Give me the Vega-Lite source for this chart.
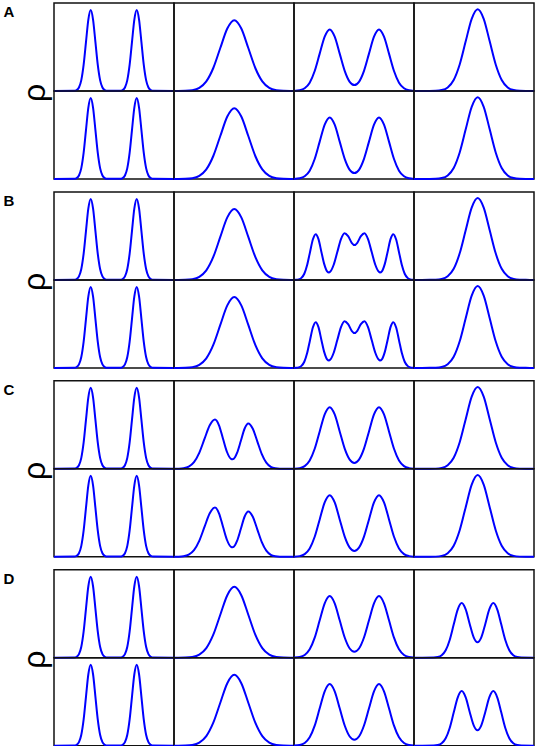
{
  "$schema": "https://vega.github.io/schema/vega-lite/v6.json",
  "autosize": {"type": "pad"},
  "padding": {"left": 3, "top": 2, "right": 1, "bottom": 1},
  "background": "white",
  "spacing": 6.9,
  "datasets": {
    "curves": [
      {"k":"1n","x":0,"y1":0,"y2":0},{"k":"1n","x":20.25,"y1":0.002,"y2":0.002},{"k":"1n","x":22.6,"y1":0.01,"y2":0.01},{"k":"1n","x":24.95,"y1":0.04,"y2":0.04},{"k":"1n","x":27.3,"y1":0.124,"y2":0.124},{"k":"1n","x":29.65,"y1":0.299,"y2":0.299},{"k":"1n","x":32,"y1":0.558,"y2":0.558},{"k":"1n","x":34.35,"y1":0.812,"y2":0.812},{"k":"1n","x":36.7,"y1":0.92,"y2":0.92},{"k":"1n","x":39.05,"y1":0.812,"y2":0.812},{"k":"1n","x":41.4,"y1":0.558,"y2":0.558},{"k":"1n","x":43.75,"y1":0.299,"y2":0.299},{"k":"1n","x":46.1,"y1":0.124,"y2":0.124},{"k":"1n","x":48.45,"y1":0.04,"y2":0.04},{"k":"1n","x":50.8,"y1":0.01,"y2":0.01},{"k":"1n","x":53.15,"y1":0.002,"y2":0.002},{"k":"1n","x":66.25,"y1":0.002,"y2":0.002},{"k":"1n","x":68.6,"y1":0.01,"y2":0.01},{"k":"1n","x":70.95,"y1":0.04,"y2":0.04},{"k":"1n","x":73.3,"y1":0.124,"y2":0.124},{"k":"1n","x":75.65,"y1":0.299,"y2":0.299},{"k":"1n","x":78,"y1":0.558,"y2":0.558},{"k":"1n","x":80.35,"y1":0.812,"y2":0.812},{"k":"1n","x":82.7,"y1":0.92,"y2":0.92},{"k":"1n","x":85.05,"y1":0.812,"y2":0.812},{"k":"1n","x":87.4,"y1":0.558,"y2":0.558},{"k":"1n","x":89.75,"y1":0.299,"y2":0.299},{"k":"1n","x":92.1,"y1":0.124,"y2":0.124},{"k":"1n","x":94.45,"y1":0.04,"y2":0.04},{"k":"1n","x":96.8,"y1":0.01,"y2":0.01},{"k":"1n","x":99.15,"y1":0.002,"y2":0.002},{"k":"1n","x":120,"y1":0,"y2":0},

      {"k":"2s","x":0,"y1":0,"y2":0},{"k":"2s","x":4.3,"y1":0.0002,"y2":0.0002},{"k":"2s","x":11.3,"y1":0.0018,"y2":0.0018},{"k":"2s","x":18.3,"y1":0.0089,"y2":0.0089},{"k":"2s","x":25.3,"y1":0.0353,"y2":0.0353},{"k":"2s","x":32.3,"y1":0.1089,"y2":0.1089},{"k":"2s","x":39.3,"y1":0.2614,"y2":0.2614},{"k":"2s","x":46.3,"y1":0.4882,"y2":0.4882},{"k":"2s","x":53.3,"y1":0.7104,"y2":0.7104},{"k":"2s","x":60.3,"y1":0.805,"y2":0.805},{"k":"2s","x":67.3,"y1":0.7104,"y2":0.7104},{"k":"2s","x":74.3,"y1":0.4882,"y2":0.4882},{"k":"2s","x":81.3,"y1":0.2614,"y2":0.2614},{"k":"2s","x":88.3,"y1":0.1089,"y2":0.1089},{"k":"2s","x":95.3,"y1":0.0353,"y2":0.0353},{"k":"2s","x":102.3,"y1":0.0089,"y2":0.0089},{"k":"2s","x":109.3,"y1":0.0018,"y2":0.0018},{"k":"2s","x":116.3,"y1":0.0002,"y2":0.0002},{"k":"2s","x":120,"y1":0,"y2":0},

      {"k":"2c","x":0,"y1":0,"y2":0},{"k":"2c","x":4.25,"y1":0.0012,"y2":0.0012},{"k":"2c","x":9.5,"y1":0.0062,"y2":0.0062},{"k":"2c","x":14.75,"y1":0.0246,"y2":0.0246},{"k":"2c","x":20,"y1":0.0758,"y2":0.0758},{"k":"2c","x":25.25,"y1":0.1818,"y2":0.1818},{"k":"2c","x":30.5,"y1":0.3396,"y2":0.3396},{"k":"2c","x":35.75,"y1":0.4942,"y2":0.4942},{"k":"2c","x":41,"y1":0.56,"y2":0.56},{"k":"2c","x":45,"y1":0.4945,"y2":0.4945},{"k":"2c","x":49,"y1":0.3413,"y2":0.3413},{"k":"2c","x":53,"y1":0.1909,"y2":0.1909},{"k":"2c","x":57,"y1":0.1118,"y2":0.1118},{"k":"2c","x":58.5,"y1":0.1072,"y2":0.1072},{"k":"2c","x":61,"y1":0.1315,"y2":0.1315},{"k":"2c","x":63.05,"y1":0.1798,"y2":0.1798},{"k":"2c","x":66.8,"y1":0.3154,"y2":0.3154},{"k":"2c","x":70.55,"y1":0.4551,"y2":0.4551},{"k":"2c","x":74.3,"y1":0.515,"y2":0.515},{"k":"2c","x":78.8,"y1":0.4545,"y2":0.4545},{"k":"2c","x":83.3,"y1":0.3123,"y2":0.3123},{"k":"2c","x":87.8,"y1":0.1672,"y2":0.1672},{"k":"2c","x":92.3,"y1":0.0697,"y2":0.0697},{"k":"2c","x":96.8,"y1":0.0226,"y2":0.0226},{"k":"2c","x":101.3,"y1":0.0057,"y2":0.0057},{"k":"2c","x":105.8,"y1":0.0011,"y2":0.0011},{"k":"2c","x":120,"y1":0,"y2":0},

      {"k":"3m","x":0,"y1":0.0012,"y2":0.0012},{"k":"3m","x":5.7,"y1":0.0078,"y2":0.0078},{"k":"3m","x":10.7,"y1":0.0307,"y2":0.0307},{"k":"3m","x":15.7,"y1":0.0947,"y2":0.0947},{"k":"3m","x":20.7,"y1":0.2273,"y2":0.2273},{"k":"3m","x":25.7,"y1":0.4246,"y2":0.4246},{"k":"3m","x":30.7,"y1":0.6178,"y2":0.6178},{"k":"3m","x":35.7,"y1":0.7,"y2":0.7},{"k":"3m","x":40.7,"y1":0.6178,"y2":0.6178},{"k":"3m","x":45.7,"y1":0.4249,"y2":0.4249},{"k":"3m","x":50.7,"y1":0.2293,"y2":0.2293},{"k":"3m","x":55.7,"y1":0.1043,"y2":0.1043},{"k":"3m","x":60.35,"y1":0.0671,"y2":0.0671},{"k":"3m","x":65,"y1":0.1043,"y2":0.1043},{"k":"3m","x":70,"y1":0.2293,"y2":0.2293},{"k":"3m","x":75,"y1":0.4249,"y2":0.4249},{"k":"3m","x":80,"y1":0.6178,"y2":0.6178},{"k":"3m","x":85,"y1":0.7,"y2":0.7},{"k":"3m","x":90,"y1":0.6178,"y2":0.6178},{"k":"3m","x":95,"y1":0.4246,"y2":0.4246},{"k":"3m","x":100,"y1":0.2273,"y2":0.2273},{"k":"3m","x":105,"y1":0.0947,"y2":0.0947},{"k":"3m","x":110,"y1":0.0307,"y2":0.0307},{"k":"3m","x":115,"y1":0.0078,"y2":0.0078},{"k":"3m","x":120,"y1":0.0012,"y2":0.0012},

      {"k":"3q","x":0,"y1":0,"y2":0},{"k":"3q","x":1.75,"y1":0.001,"y2":0.001},{"k":"3q","x":4.6,"y1":0.006,"y2":0.006},{"k":"3q","x":7.45,"y1":0.023,"y2":0.023},{"k":"3q","x":10.3,"y1":0.07,"y2":0.07},{"k":"3q","x":13.15,"y1":0.169,"y2":0.169},{"k":"3q","x":16,"y1":0.315,"y2":0.315},{"k":"3q","x":18.85,"y1":0.459,"y2":0.459},{"k":"3q","x":21.7,"y1":0.52,"y2":0.52},{"k":"3q","x":24.55,"y1":0.46,"y2":0.46},{"k":"3q","x":27.4,"y1":0.318,"y2":0.318},{"k":"3q","x":30.25,"y1":0.179,"y2":0.179},{"k":"3q","x":33.1,"y1":0.098,"y2":0.098},{"k":"3q","x":35,"y1":0.085,"y2":0.085},{"k":"3q","x":36.1,"y1":0.092,"y2":0.092},{"k":"3q","x":39.7,"y1":0.172,"y2":0.172},{"k":"3q","x":43.3,"y1":0.316,"y2":0.316},{"k":"3q","x":46.9,"y1":0.46,"y2":0.46},{"k":"3q","x":50.5,"y1":0.53,"y2":0.53},{"k":"3q","x":54.1,"y1":0.497,"y2":0.497},{"k":"3q","x":57.7,"y1":0.422,"y2":0.422},{"k":"3q","x":60.5,"y1":0.396,"y2":0.396},{"k":"3q","x":63.3,"y1":0.422,"y2":0.422},{"k":"3q","x":66.9,"y1":0.497,"y2":0.497},{"k":"3q","x":70.5,"y1":0.53,"y2":0.53},{"k":"3q","x":74.1,"y1":0.46,"y2":0.46},{"k":"3q","x":77.7,"y1":0.316,"y2":0.316},{"k":"3q","x":81.3,"y1":0.172,"y2":0.172},{"k":"3q","x":84.9,"y1":0.092,"y2":0.092},{"k":"3q","x":86,"y1":0.085,"y2":0.085},{"k":"3q","x":87.9,"y1":0.098,"y2":0.098},{"k":"3q","x":90.75,"y1":0.179,"y2":0.179},{"k":"3q","x":93.6,"y1":0.318,"y2":0.318},{"k":"3q","x":96.45,"y1":0.46,"y2":0.46},{"k":"3q","x":99.3,"y1":0.52,"y2":0.52},{"k":"3q","x":102.15,"y1":0.459,"y2":0.459},{"k":"3q","x":105,"y1":0.315,"y2":0.315},{"k":"3q","x":107.85,"y1":0.169,"y2":0.169},{"k":"3q","x":110.7,"y1":0.07,"y2":0.07},{"k":"3q","x":113.55,"y1":0.023,"y2":0.023},{"k":"3q","x":116.4,"y1":0.006,"y2":0.006},{"k":"3q","x":119.25,"y1":0.001,"y2":0.001},{"k":"3q","x":120,"y1":0,"y2":0},

      {"k":"4t","x":0,"y1":0,"y2":0},{"k":"4t","x":15.7,"y1":0.0003,"y2":0.0003},{"k":"4t","x":21.7,"y1":0.002,"y2":0.002},{"k":"4t","x":27.7,"y1":0.0103,"y2":0.0103},{"k":"4t","x":33.7,"y1":0.0408,"y2":0.0408},{"k":"4t","x":39.7,"y1":0.1258,"y2":0.1258},{"k":"4t","x":45.7,"y1":0.302,"y2":0.302},{"k":"4t","x":51.7,"y1":0.564,"y2":0.564},{"k":"4t","x":57.7,"y1":0.8207,"y2":0.8207},{"k":"4t","x":63.7,"y1":0.93,"y2":0.93},{"k":"4t","x":69.7,"y1":0.8207,"y2":0.8207},{"k":"4t","x":75.7,"y1":0.564,"y2":0.564},{"k":"4t","x":81.7,"y1":0.302,"y2":0.302},{"k":"4t","x":87.7,"y1":0.1258,"y2":0.1258},{"k":"4t","x":93.7,"y1":0.0408,"y2":0.0408},{"k":"4t","x":99.7,"y1":0.0103,"y2":0.0103},{"k":"4t","x":105.7,"y1":0.002,"y2":0.002},{"k":"4t","x":111.7,"y1":0.0003,"y2":0.0003},{"k":"4t","x":120,"y1":0,"y2":0},

      {"k":"4d","x":0,"y1":0,"y2":0},{"k":"4d","x":19.7,"y1":0.0014,"y2":0.0014},{"k":"4d","x":23.7,"y1":0.0069,"y2":0.0069},{"k":"4d","x":27.7,"y1":0.0272,"y2":0.0272},{"k":"4d","x":31.7,"y1":0.0839,"y2":0.0839},{"k":"4d","x":35.7,"y1":0.2013,"y2":0.2013},{"k":"4d","x":39.7,"y1":0.376,"y2":0.376},{"k":"4d","x":43.7,"y1":0.5472,"y2":0.5472},{"k":"4d","x":47.7,"y1":0.6203,"y2":0.6203},{"k":"4d","x":51.7,"y1":0.5488,"y2":0.5488},{"k":"4d","x":55.7,"y1":0.384,"y2":0.384},{"k":"4d","x":59.7,"y1":0.2321,"y2":0.2321},{"k":"4d","x":63.5,"y1":0.176,"y2":0.176},{"k":"4d","x":67.3,"y1":0.2321,"y2":0.2321},{"k":"4d","x":71.3,"y1":0.384,"y2":0.384},{"k":"4d","x":75.3,"y1":0.5488,"y2":0.5488},{"k":"4d","x":79.3,"y1":0.6203,"y2":0.6203},{"k":"4d","x":83.3,"y1":0.5472,"y2":0.5472},{"k":"4d","x":87.3,"y1":0.376,"y2":0.376},{"k":"4d","x":91.3,"y1":0.2013,"y2":0.2013},{"k":"4d","x":95.3,"y1":0.0839,"y2":0.0839},{"k":"4d","x":99.3,"y1":0.0272,"y2":0.0272},{"k":"4d","x":103.3,"y1":0.0069,"y2":0.0069},{"k":"4d","x":107.3,"y1":0.0014,"y2":0.0014},{"k":"4d","x":120,"y1":0,"y2":0}
    ]
  },
  "vconcat": [
    {
      "title": {"text": "A", "orient": "left", "anchor": "end", "angle": 0, "align": "right", "baseline": "top", "fontSize": 15, "fontWeight": "bold", "offset": -6, "dy": 3},
      "vconcat": [{
        "title": {"text": "ρ", "orient": "left", "anchor": "middle", "fontSize": 32, "fontWeight": "normal", "offset": -3},
        "data": {"name": "curves"},
        "transform": [{"filter": {"field": "k", "oneOf": ["1n","2s","3m","4t"]}}, {"fold": ["y1", "y2"], "as": ["r", "y"]}],
        "facet": {"row": {"field": "r", "header": null}, "column": {"field": "k", "header": null}},
        "spacing": 0, "bounds": "flush",
        "spec": {"width": 120, "height": 88, "mark": "line", "encoding": {"x": {"field": "x", "type": "quantitative", "scale": {"domain": [0, 120]}, "axis": null}, "y": {"field": "y", "type": "quantitative", "scale": {"domain": [0, 1]}, "axis": null}}}
      }]
    },
    {
      "title": {"text": "B", "orient": "left", "anchor": "end", "angle": 0, "align": "right", "baseline": "top", "fontSize": 15, "fontWeight": "bold", "offset": -6, "dy": 3},
      "vconcat": [{
        "title": {"text": "ρ", "orient": "left", "anchor": "middle", "fontSize": 32, "fontWeight": "normal", "offset": -3},
        "data": {"name": "curves"},
        "transform": [{"filter": {"field": "k", "oneOf": ["1n","2s","3q","4t"]}}, {"fold": ["y1", "y2"], "as": ["r", "y"]}],
        "facet": {"row": {"field": "r", "header": null}, "column": {"field": "k", "header": null}},
        "spacing": 0, "bounds": "flush",
        "spec": {"width": 120, "height": 88, "mark": "line", "encoding": {"x": {"field": "x", "type": "quantitative", "scale": {"domain": [0, 120]}, "axis": null}, "y": {"field": "y", "type": "quantitative", "scale": {"domain": [0, 1]}, "axis": null}}}
      }]
    },
    {
      "title": {"text": "C", "orient": "left", "anchor": "end", "angle": 0, "align": "right", "baseline": "top", "fontSize": 15, "fontWeight": "bold", "offset": -6, "dy": 3},
      "vconcat": [{
        "title": {"text": "ρ", "orient": "left", "anchor": "middle", "fontSize": 32, "fontWeight": "normal", "offset": -3},
        "data": {"name": "curves"},
        "transform": [{"filter": {"field": "k", "oneOf": ["1n","2c","3m","4t"]}}, {"fold": ["y1", "y2"], "as": ["r", "y"]}],
        "facet": {"row": {"field": "r", "header": null}, "column": {"field": "k", "header": null}},
        "spacing": 0, "bounds": "flush",
        "spec": {"width": 120, "height": 88, "mark": "line", "encoding": {"x": {"field": "x", "type": "quantitative", "scale": {"domain": [0, 120]}, "axis": null}, "y": {"field": "y", "type": "quantitative", "scale": {"domain": [0, 1]}, "axis": null}}}
      }]
    },
    {
      "title": {"text": "D", "orient": "left", "anchor": "end", "angle": 0, "align": "right", "baseline": "top", "fontSize": 15, "fontWeight": "bold", "offset": -6, "dy": 3},
      "vconcat": [{
        "title": {"text": "ρ", "orient": "left", "anchor": "middle", "fontSize": 32, "fontWeight": "normal", "offset": -3},
        "data": {"name": "curves"},
        "transform": [{"filter": {"field": "k", "oneOf": ["1n","2s","3m","4d"]}}, {"fold": ["y1", "y2"], "as": ["r", "y"]}],
        "facet": {"row": {"field": "r", "header": null}, "column": {"field": "k", "header": null}},
        "spacing": 0, "bounds": "flush",
        "spec": {"width": 120, "height": 88, "mark": "line", "encoding": {"x": {"field": "x", "type": "quantitative", "scale": {"domain": [0, 120]}, "axis": null}, "y": {"field": "y", "type": "quantitative", "scale": {"domain": [0, 1]}, "axis": null}}}
      }]
    }
  ],
  "config": {
    "font": "Liberation Sans",
    "view": {"stroke": "#111111", "strokeWidth": 1.5},
    "line": {"color": "#0000ff", "strokeWidth": 2, "interpolate": "monotone"},
    "title": {"font": "Liberation Sans", "color": "#000000"}
  }
}
